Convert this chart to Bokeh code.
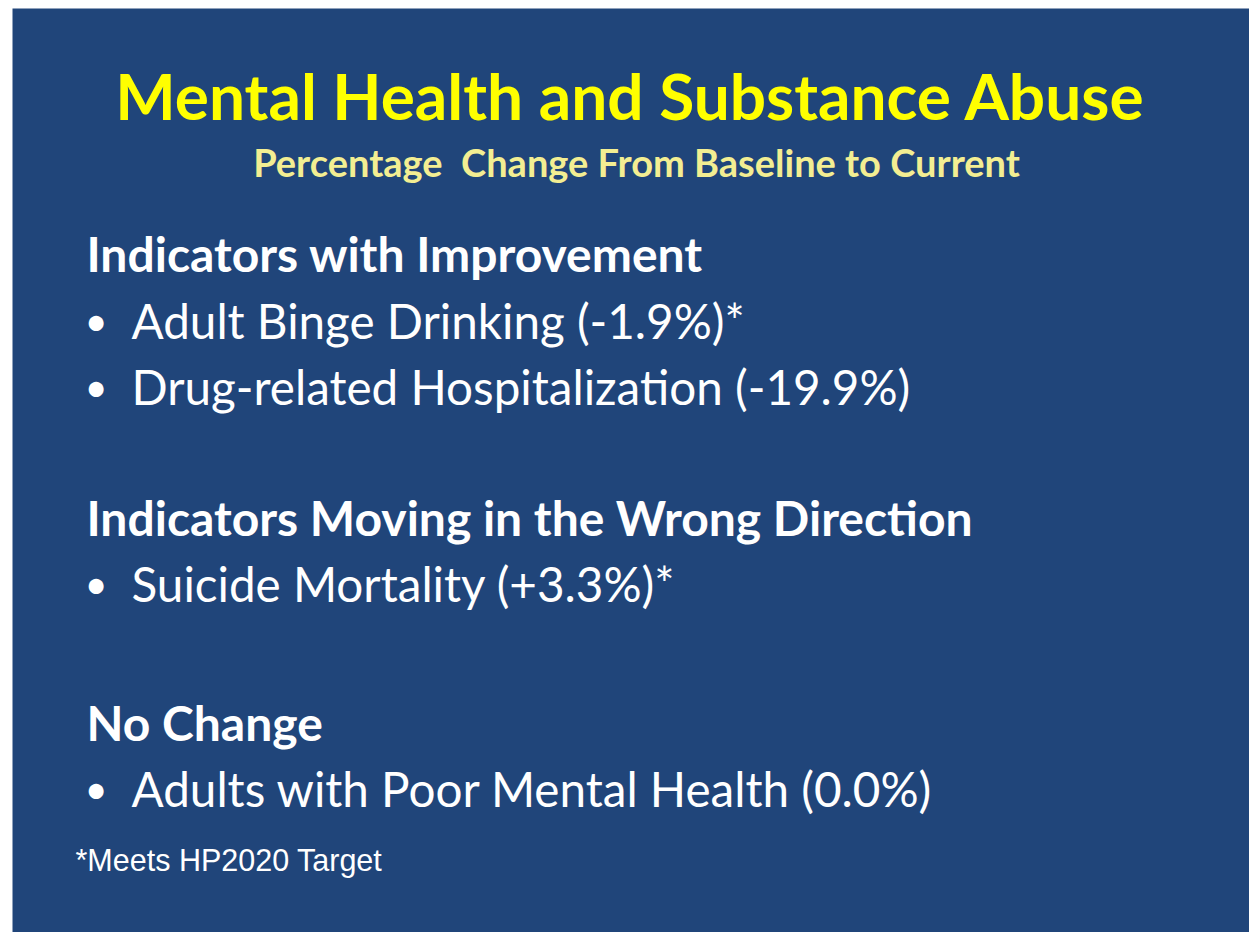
from bokeh.plotting import figure
from bokeh.models import Range1d
from bokeh.core.properties import value
from bokeh.embed import file_html
from bokeh.resources import INLINE

# ---- content ----
title = "Mental Health and Substance Abuse"
subtitle = "Percentage\u00a0 Change From Baseline to Current"
headings = ["Indicators with Improvement",
            "Indicators Moving in the Wrong Direction",
            "No Change"]
bullets = ["Adult Binge Drinking (-1.9%)*",
           "Drug-related Hospitalization (-19.9%)",
           "Suicide Mortality (+3.3%)*",
           "Adults with Poor Mental Health (0.0%)"]
footnote = "*Meets HP2020 Target"

# ---- layout (pixel coords, y downward) ----
W, H = 1249, 932
BG = "#20457a"
F = 0.42  # baseline correction fraction for svg text

TITLE_PX, SUB_PX, HEAD_PX, BUL_PX, FOOT_PX = 64, 38, 48, 47.6, 30.5
heading_base = [273, 537, 742]
bullet_base = [340, 406, 603, 808]


def yb(base, px):
    return base - F * px


p = figure(width=W, height=H, output_backend="svg", toolbar_location=None,
           x_range=Range1d(0, W), y_range=Range1d(H, 0), min_border=0,
           background_fill_color="white", border_fill_color="white",
           outline_line_color=None)
p.axis.visible = False
p.grid.visible = False

p.quad(left=12, right=W, top=8, bottom=H, fill_color=BG, line_color=None)

body_font = value("Lato")

p.text(x=[630], y=[yb(122, TITLE_PX)], text=[title], text_font=body_font,
       text_font_style="bold", text_font_size=f"{TITLE_PX}px", text_color="#ffff00",
       text_align="center", text_baseline="alphabetic")
p.text(x=[636], y=[yb(177, SUB_PX)], text=[subtitle], text_font=body_font,
       text_font_style="bold", text_font_size=f"{SUB_PX}px", text_color="#f3ee92",
       text_align="center", text_baseline="alphabetic")

p.text(x=[86] * len(headings), y=[yb(b, HEAD_PX) for b in heading_base], text=headings,
       text_font=body_font, text_font_style="bold", text_font_size=f"{HEAD_PX}px",
       text_color="white", text_align="left", text_baseline="alphabetic")

p.text(x=[84] * len(bullets), y=[yb(b, BUL_PX) for b in bullet_base],
       text=["\u2022"] * len(bullets), text_font=body_font,
       text_font_size="40px", text_color="white",
       text_align="left", text_baseline="alphabetic")
p.text(x=[131] * len(bullets), y=[yb(b, BUL_PX) for b in bullet_base], text=bullets,
       text_font=body_font, text_font_size=f"{BUL_PX}px", text_color="white",
       text_align="left", text_baseline="alphabetic")

p.text(x=[75], y=[yb(872, FOOT_PX)], text=[footnote], text_font=value("Liberation Sans"),
       text_font_size=f"{FOOT_PX}px", text_color="white", text_align="left",
       text_baseline="alphabetic")

open("out.html", "w").write(file_html(p, INLINE))
